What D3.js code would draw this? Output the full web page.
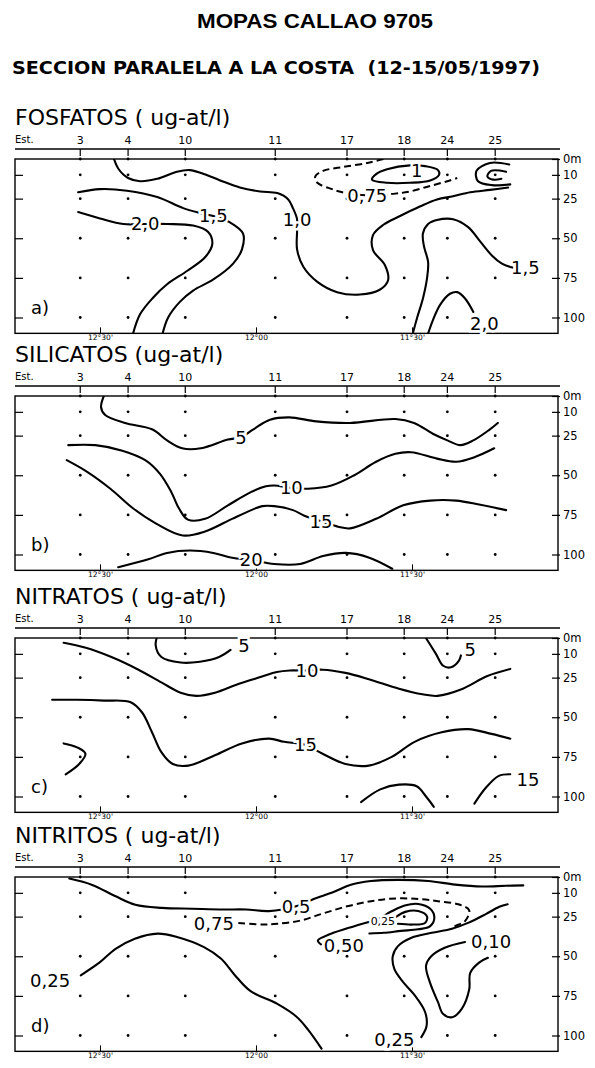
<!DOCTYPE html>
<html>
<head>
<meta charset="utf-8">
<script src="https://cdn.jsdelivr.net/npm/d3@7"></script>
<style>
body { margin: 0; background: #fff; }
</style>
</head>
<body>
<div id="chart"></div>
<script>
var title = "MOPAS CALLAO 9705";
var subtitle = "SECCION PARALELA A LA COSTA  (12-15/05/1997)";
var panelTitles = ["FOSFATOS ( ug-at/l)", "SILICATOS (ug-at/l)", "NITRATOS ( ug-at/l)", "NITRITOS ( ug-at/l)"];
var panelTags = ["a)", "b)", "c)", "d)"];

// estaciones y su latitud (minutos S)
var stations = ["3", "4", "10", "11", "17", "18", "24", "25"];
var stationLat = [753.8, 744.6, 733.6, 716.3, 702.5, 691.5, 683.2, 674.0];
var sampleDepths = [0, 10, 25, 50, 75, 100];
var depthTicks = [0, 10, 25, 50, 75, 100];
var latTicks = [750, 720, 690];
var latLabels = ["12°30'", "12°00", "11°30'"];

// isolineas [lat(min S), prof(m)]
// a) fosfatos
var fosf10 = [[747.5,-2],[746.5,6],[744.6,12],[742.3,14],[739.0,12.5],[735.2,8],[732.7,7],[730.4,9],[726.9,13.5],[723.1,18],[719.2,20.5],[715.9,21.5],[713.8,25.5],[712.9,31],[712.1,38],[712.1,45.5],[712.1,57],[710.9,68],[708.2,77.5],[704.4,84],[700,85.5],[696.2,82.5],[694.6,76.5],[695.2,67],[697.5,57.5],[697.5,48],[695.5,41.5],[692.3,36],[688.5,30],[685.2,25.5],[682.1,23.5],[678.8,21],[675,19.5],[671.5,18]];
var fosf15a = [[754.2,21],[750,19],[744.8,20],[739,24],[734,31],[730.8,34],[728.2,36],[725,40],[722.5,47],[722.7,57],[724.4,66],[728.2,76],[732.1,83],[734.6,90],[736.9,100],[738.1,112]];
var fosf20a = [[754.2,33.5],[750,37.5],[745.5,41],[741.3,41],[737.1,41],[732.1,42],[729.2,46],[728.4,53.5],[729.8,62],[733.2,70.5],[737.1,79],[739.8,87.5],[742.3,98],[743.8,112]];
var fosf15b = [[690,112],[689,100],[687.9,88],[687.1,75],[686.9,65],[687.7,55],[687.9,47],[686.9,41],[685.2,38.5],[682.1,38],[679.2,43],[676.9,52],[674.6,61],[672.7,66],[670.7,68.5]];
var fosf20b = [[687.1,112],[685.9,101],[684.6,92],[682.7,85],[681.3,84],[679.8,88],[678.2,96.5]];
var fosf075 = [[695.5,0],[698.6,2.5],[703.2,5],[707.1,7.5],[708.6,11],[708.2,15],[705.4,19],[703.4,21],[698.6,23],[693.6,22],[690.4,20.5],[686.5,17],[683.2,14],[681.3,12]];
var fosf1 = [[697.7,13],[694.8,15],[690.4,15],[686.5,13.5],[684.8,10],[685,7],[687.5,4.5],[690.4,4],[694.8,6.5],[696.9,9.5]];
var fosfC1 = [[671.3,3.5],[675,2.5],[677.6,7.5],[677.3,14],[674.6,16.5],[671.1,16]];
var fosfC2 = [[671.9,8],[674.8,7.5],[675.5,11],[674.4,13],[672.8,12.5]];
var fosfLabels = [["1,0",712.1,38],["1,5",728.2,35.5],["2,0",741.3,41],["1,5",668.2,68.5],["2,0",676.1,104],["0,75",698.6,23],["1",689.1,7]];

// b) silicatos
var sil5 = [[749,-2],[749.8,7],[749,12],[745.2,17],[740,21],[737.1,28],[734.2,33],[730.6,33],[725.4,27.5],[722.9,26],[720.5,21],[717.3,15],[713.6,13.5],[708.4,16],[701.9,17],[693.2,14.5],[689.6,17],[685.9,24],[683.2,28],[680.7,31],[678.2,28],[675.2,21.5],[673.5,17]];
var sil10 = [[756.1,31],[750.9,31],[745.7,34.5],[741.3,40.5],[738.5,49],[736.3,60.5],[734.8,71],[733.1,78],[729.8,77.5],[725.4,69],[720.9,60.5],[718.1,57],[716.5,56.5],[713.2,58],[710,58.5],[705.5,56.5],[701.1,50],[696.9,41.5],[693.2,36.5],[690.2,35.5],[685.2,39.5],[681.5,41.5],[677.9,38.5],[674.2,33]];
var sil15 = [[756.4,40.5],[752.4,48],[748,58.5],[743.6,71],[739.2,80.5],[734.1,88],[729.8,85.5],[724.6,77.5],[720.9,72],[718.8,69.5],[716.5,69.5],[712.9,72],[710.7,75.5],[707.5,79],[704.2,82.5],[701.9,83.5],[696.9,77.5],[691.7,69],[686.5,66],[681.5,66],[677.1,68.5],[671.9,72]];
var sil20 = [[746.5,108],[740.7,103],[737.1,99],[732.7,97.5],[728.2,99],[724.6,102],[720.9,103.5],[716.5,106],[711.5,106],[707.1,101],[702.7,99],[698.2,102],[693.8,109]];
var silLabels = [["5",722.9,26],["10",713.2,58],["15",707.5,79],["20",720.9,103]];

// c) nitratos
var nit5a = [[738.9,-2],[739.3,4.5],[738.2,12],[734.5,15.5],[730.8,15],[727.1,12],[724.9,7.5]];
var nit5b = [[687.7,-2],[685.4,10],[684,17.5],[682.5,18.5],[681,14.5],[680.6,11]];
var nit10 = [[757,3],[752.9,6],[747.8,12],[742.6,20],[738.2,28],[734.5,34.5],[731.5,36.5],[727.9,34.5],[723.4,29],[719,24.5],[716,21.5],[713.5,20.5],[710.2,20.5],[707.2,20],[702.8,22],[698.3,26],[692.5,32],[688,35.5],[685.1,36.5],[680.6,32.5],[675.5,24],[671.1,19.5]];
var nit15 = [[759.2,39],[754.4,39],[749.2,39.5],[744.1,40.5],[741.9,47],[740,59.5],[738.2,72],[736,79.5],[733,80.5],[727.9,74],[722.7,66.5],[717.5,63.5],[714.6,65.5],[710.5,67.5],[707.2,73],[702.8,79.5],[698.3,80.5],[693.9,75],[689.5,65.5],[684.3,59.5],[679.2,57.5],[674.7,60.5],[671.1,63.5]];
var nit15c = [[757,66.5],[754.4,69],[752.8,73],[754,79.5],[756.6,86]];
var nitArc = [[699.8,103.5],[696.1,95.5],[692.5,92.5],[689.1,93.5],[687.3,100],[685.8,106.5]];
var nit15d = [[678,104.5],[675.8,94.5],[673.3,87],[671.1,86]];
var nitLabels = [["5",722.3,4.5],["5",678.8,7],["10",710.2,20.5],["15",710.5,67.5],["15",667.7,89]];

// d) nitritos
var ni05 = [[755.9,1],[751.5,5],[747.1,12],[743.2,17.5],[738.1,19.5],[732.3,20],[726.3,20.5],[721.9,20.5],[717.5,21.5],[712.3,18.5],[709,14],[705.1,9.5],[701.9,5],[697.9,2.5],[692.7,1.8],[686.9,2.5],[681.7,4.8],[676.5,6],[671.9,5.5],[668.6,5.3]];
var ni075 = [[723.4,29],[718.8,30],[715.9,29.5],[711.5,27.5],[707.1,23],[702.5,18.5],[697.9,15.3],[694.2,13.7],[689.4,13.7],[685,15.3],[681.1,17.2],[679,21],[679.8,27.8],[681.7,31],[682.5,32.5]];
var ni050 = [[707.5,42.5],[708.1,40],[705.7,36],[701.1,31],[696.7,26.7],[694,21.8],[691.4,18],[688.8,17],[686.5,20],[685.7,25.6],[686.5,31],[688.8,33],[692.1,34],[695.4,35.2],[698.2,35.6]];
var ni025in = [[692.7,29.5],[689.8,30],[687.5,29],[687.1,25],[688.8,21.5],[691.3,22],[693,25]];
var ni025r = [[688.2,101],[687.2,94],[687.5,85],[689.5,74.5],[691.7,66.3],[693.4,58],[693.7,50],[692.7,43.6],[690.1,38.3],[686.2,35.2],[682.3,32.6],[679.1,28.8],[675.8,23.4],[673.2,18.8],[671.6,17.2]];
var ni010 = [[679.8,41],[683.6,44.5],[686.3,50],[687.3,56],[686.5,67],[685,79],[684,86.5],[682.3,88.5],[680.4,83],[679,71],[678.8,60.5],[677.1,54],[675.4,51]];
var ni025l = [[753.7,62],[750,53.7],[747,45.3],[743.3,38.9],[738.9,35.7],[735.2,37.8],[730,44.2],[726.7,51.6],[724.1,61.8],[721.1,71.9],[715.9,80.1],[712.2,88.2],[710,96.3],[707.4,108.3]];
var niLabels = [["0,5",712.3,18.5],["0,75",728.1,29.3],["0,50",703.1,43],["0,25",695.6,27.5,"s"],["0,10",674.8,40.5],["0,25",693.4,102.5],["0,25",759.6,65]];

var panels = [
  { lines: [fosf10, fosf15a, fosf20a, fosf15b, fosf20b, fosf1, fosfC1, fosfC2], closed: [fosf1], dashed: [fosf075], labels: fosfLabels, missing: [["25", 100]] },
  { lines: [sil5, sil10, sil15, sil20], closed: [], dashed: [], labels: silLabels, missing: [] },
  { lines: [nit5a, nit5b, nit10, nit15, nit15c, nitArc, nit15d], closed: [], dashed: [], labels: nitLabels, missing: [] },
  { lines: [ni05, ni050, ni025in, ni025r, ni010, ni025l], closed: [], dashed: [ni075], labels: niLabels, missing: [] }
];

var W = 595, H = 1068;
var boxL = 15, boxR = 558;
var panelTop = [159, 396, 638, 877];

var svg = d3.select("#chart").append("svg")
  .attr("width", W).attr("height", H)
  .style("font-family", "'DejaVu Sans', sans-serif");

svg.append("text")
  .attr("x", 197).attr("y", 28)
  .attr("textLength", 236).attr("lengthAdjust", "spacingAndGlyphs")
  .style("font-family", "'Liberation Sans', Arial, sans-serif")
  .style("font-weight", "bold").style("font-size", "21px")
  .text(title);

svg.append("text")
  .attr("x", 12).attr("y", 74)
  .attr("textLength", 528).attr("lengthAdjust", "spacingAndGlyphs")
  .style("font-weight", "bold").style("font-size", "17px")
  .style("white-space", "pre")
  .text(subtitle);

var x = d3.scaleLinear().domain([750, 690]).range([100, 412]);

panels.forEach(function(p, i) {
  var top = panelTop[i];
  var y = d3.scaleLinear().domain([0, 100]).range([top, top + 158.5]);
  var bottom = y(110);
  var g = svg.append("g");

  g.append("text")
    .attr("x", 15).attr("y", top - 34)
    .style("font-size", "22px")
    .text(panelTitles[i]);

  // eje de estaciones
  g.append("line")
    .attr("x1", boxL).attr("x2", boxR + 2)
    .attr("y1", top - 10).attr("y2", top - 10)
    .attr("stroke", "#000").attr("stroke-width", 1.3);
  g.append("text")
    .attr("x", boxL).attr("y", top - 16)
    .style("font-size", "10px")
    .text("Est.");
  stations.forEach(function(s, k) {
    g.append("line")
      .attr("x1", x(stationLat[k])).attr("x2", x(stationLat[k]))
      .attr("y1", top - 10).attr("y2", top - 3)
      .attr("stroke", "#000").attr("stroke-width", 1.2);
    g.append("text")
      .attr("x", x(stationLat[k])).attr("y", top - 15)
      .attr("text-anchor", "middle")
      .style("font-size", "11px")
      .text(s);
  });

  // marco
  g.append("rect")
    .attr("x", boxL).attr("y", top)
    .attr("width", boxR - boxL).attr("height", bottom - top)
    .attr("fill", "none").attr("stroke", "#000").attr("stroke-width", 1.4);

  var right = g.append("g")
    .attr("transform", "translate(" + (boxR - 6) + ",0)")
    .call(d3.axisRight(y).tickValues(depthTicks).tickSize(8).tickPadding(3)
      .tickFormat(function(d) { return d === 0 ? "0m" : d; }));
  right.select(".domain").remove();
  right.selectAll("text").style("font-size", "11.5px").style("font-family", "'DejaVu Sans', sans-serif");
  right.selectAll("line").attr("stroke-width", 1.2);

  var left = g.append("g")
    .attr("transform", "translate(" + boxL + ",0)")
    .call(d3.axisRight(y).tickValues(depthTicks.slice(1)).tickSize(8).tickFormat(""));
  left.select(".domain").remove();
  left.selectAll("line").attr("stroke-width", 1.2);

  var bot = g.append("g")
    .attr("transform", "translate(0," + bottom + ")")
    .call(d3.axisBottom(x).tickValues(latTicks).tickSizeInner(-6).tickSizeOuter(0).tickPadding(1)
      .tickFormat(function(d, k) { return latLabels[k]; }));
  bot.select(".domain").remove();
  bot.selectAll("text").style("font-size", "7.5px").style("font-family", "'DejaVu Sans', sans-serif");

  // puntos de muestreo
  var pts = [];
  stations.forEach(function(s, k) {
    sampleDepths.forEach(function(d) {
      var skip = p.missing.some(function(m) { return m[0] === s && m[1] === d; });
      if (!skip) pts.push([stationLat[k], d]);
    });
  });
  g.selectAll("circle.dot").data(pts).enter().append("circle")
    .attr("class", "dot")
    .attr("cx", function(d) { return x(d[0]); })
    .attr("cy", function(d) { return y(d[1]); })
    .attr("r", 1.4).attr("fill", "#000");

  var clipId = "clip" + i;
  svg.append("clipPath").attr("id", clipId).append("rect")
    .attr("x", boxL).attr("y", top).attr("width", boxR - boxL).attr("height", bottom - top);

  var cg = g.append("g").attr("clip-path", "url(#" + clipId + ")");
  var line = d3.line().x(function(d) { return x(d[0]); }).y(function(d) { return y(d[1]); })
    .curve(d3.curveCatmullRom.alpha(0.5));
  var lineClosed = d3.line().x(function(d) { return x(d[0]); }).y(function(d) { return y(d[1]); })
    .curve(d3.curveCatmullRomClosed.alpha(0.5));

  p.lines.forEach(function(l) {
    cg.append("path")
      .attr("d", p.closed.indexOf(l) >= 0 ? lineClosed(l) : line(l))
      .attr("fill", "none").attr("stroke", "#000").attr("stroke-width", 2.1)
      .attr("stroke-linecap", "round");
  });
  p.dashed.forEach(function(l) {
    cg.append("path")
      .attr("d", line(l))
      .attr("fill", "none").attr("stroke", "#000").attr("stroke-width", 2)
      .attr("stroke-dasharray", "7,4");
  });

  g.selectAll("text.lab").data(p.labels).enter().append("text")
    .attr("class", "lab")
    .attr("x", function(d) { return x(d[1]); })
    .attr("y", function(d) { return y(d[2]); })
    .attr("dy", "0.36em")
    .attr("text-anchor", "middle")
    .style("font-size", function(d) { return d[3] ? "11px" : "18px"; })
    .attr("fill", "#000").attr("stroke", "#fff").attr("stroke-width", 5)
    .attr("paint-order", "stroke")
    .text(function(d) { return d[0]; });

  g.append("text")
    .attr("x", 31).attr("y", y(94)).attr("dy", "0.36em")
    .style("font-size", "18px")
    .text(panelTags[i]);
});
</script>
</body>
</html>
